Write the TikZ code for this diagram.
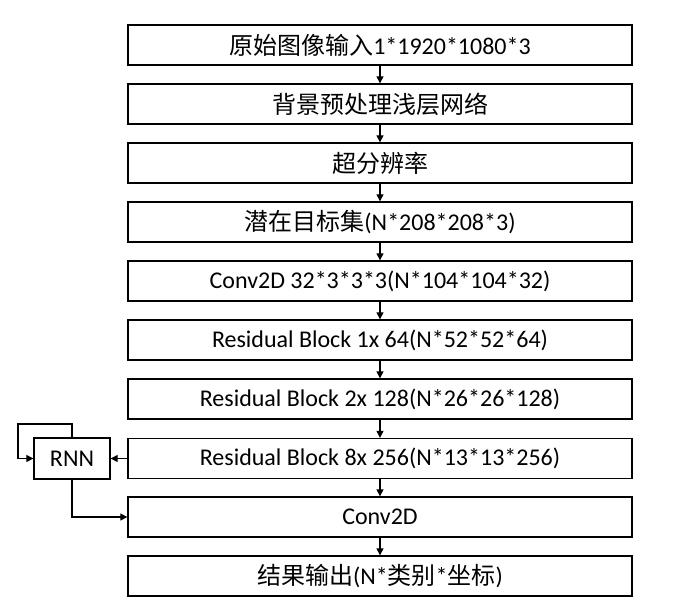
\documentclass[tikz,border=0pt]{standalone}
\usepackage{fontspec}
\setmainfont{Carlito}
\newfontfamily\cjk{Noto Sans CJK SC}
\usetikzlibrary{arrows.meta}
\tikzset{
  stage/.style={draw=black, line width=1.3pt, minimum width=504pt, minimum height=40pt, inner sep=0pt, font=\fontsize{24}{26}\selectfont},
  rnnbox/.style={draw=black, line width=1.3pt, minimum width=76pt, minimum height=41pt, inner sep=0pt, font=\fontsize{24}{26}\selectfont},
  flow/.style={line width=1.1pt, -{Triangle[length=7pt,width=7pt]}}
}
\begin{document}
\begin{tikzpicture}[x=1pt,y=-1pt]
\useasboundingbox (0,0) rectangle (675,616);
\node[stage] (n1) at (380,45) {{\cjk 原始图像输入}1*1920*1080*3};
\node[stage] (n2) at (380,104) {\cjk 背景预处理浅层网络};
\node[stage] (n3) at (380,163) {\cjk 超分辨率};
\node[stage] (n4) at (380,222) {{\cjk 潜在目标集}(N*208*208*3)};
\node[stage] (n5) at (380,281) {Conv2D 32*3*3*3(N*104*104*32)};
\node[stage] (n6) at (380,340) {Residual Block 1x 64(N*52*52*64)};
\node[stage] (n7) at (380,399) {Residual Block 2x 128(N*26*26*128)};
\node[stage] (n8) at (380,458.5) {Residual Block 8x 256(N*13*13*256)};
\node[stage] (n9) at (380,517) {Conv2D};
\node[stage] (n10) at (380,576) {{\cjk 结果输出}(N*{\cjk 类别}*{\cjk 坐标})};
\node[rnnbox] (rnn) at (72,458.5) {RNN};
\coordinate (lt) at (72,424);
\coordinate (ll) at (18,424);
\coordinate (lb) at (18,458.5);
\coordinate (rb) at (72,517);
\draw[flow] (n1) -- (n2);
\draw[flow] (n2) -- (n3);
\draw[flow] (n3) -- (n4);
\draw[flow] (n4) -- (n5);
\draw[flow] (n5) -- (n6);
\draw[flow] (n6) -- (n7);
\draw[flow] (n7) -- (n8);
\draw[flow] (n8) -- (n9);
\draw[flow] (n9) -- (n10);
\draw[flow] (n8.west) -- (rnn.east);
\draw[flow] (rnn.north) -- (lt) -- (ll) -- (lb) -- (rnn.west);
\draw[flow] (rnn.south) -- (rb) -- (n9.west);
\end{tikzpicture}
\end{document}
